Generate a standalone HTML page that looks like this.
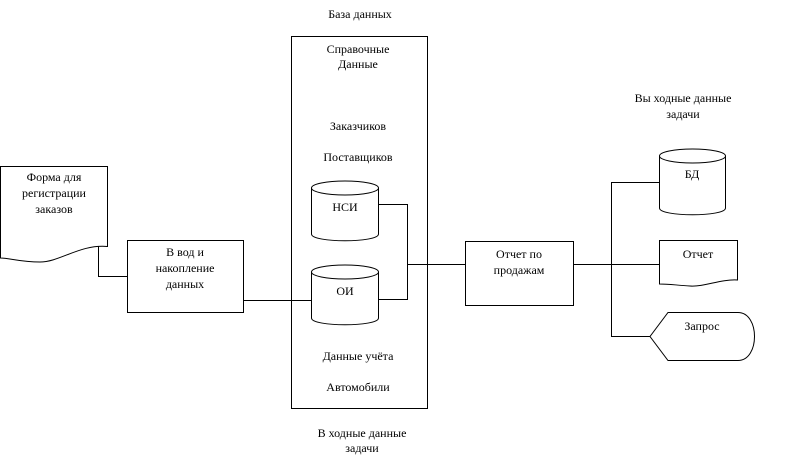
<!DOCTYPE html>
<html><head><meta charset="utf-8"><style>
body{margin:0;background:#fff}
svg text{font-family:"Liberation Serif","Noto Serif CJK SC",serif;font-size:12px;fill:#000}
</style></head><body>
<svg width="792" height="469" viewBox="0 0 792 469" xmlns="http://www.w3.org/2000/svg">
<g fill="none" stroke="#000" stroke-width="1">
<path d="M0.5 166.5H107.5V246.5C80 244 60 262 40 262C20 262 10 258 0.5 258Z" fill="#fff"/>
<rect x="127.5" y="240.5" width="116" height="72"/>
<path d="M98.5 246V276.5H127"/>
<rect x="291.5" y="36.5" width="136" height="372"/>
<path d="M311.5 188V234C311.5 243 378.5 243 378.5 234V188"/>
<ellipse cx="345" cy="188" rx="33.5" ry="7"/>
<path d="M311.5 272V318C311.5 327 378.5 327 378.5 318V272"/>
<ellipse cx="345" cy="272" rx="33.5" ry="7"/>
<path d="M243 300.5H311"/>
<path d="M378.5 204.5H407.5V299.5H378.5"/>
<path d="M407.5 264.5H465"/>
<rect x="465.5" y="241.5" width="108" height="64"/>
<path d="M573.5 264.5H659"/>
<path d="M659 182.5H611.5V336.5H650"/>
<path d="M659.5 156V208C659.5 217 725.5 217 725.5 208V156"/>
<ellipse cx="692.5" cy="156" rx="33" ry="7"/>
<path d="M659.5 240.5H737.5V280C720 279 705 287 690 286C675 285 668 284 659.5 284Z" fill="#fff"/>
<path d="M668 312.5H738C760 312.5 760 360.5 738 360.5H668L650 336.5Z"/>
</g>
<text x="54" y="181" text-anchor="middle">Форма для</text>
<text x="54" y="197" text-anchor="middle">регистрации</text>
<text x="54" y="213" text-anchor="middle">заказов</text>
<text x="185" y="256" text-anchor="middle">В вод и</text>
<text x="185" y="272" text-anchor="middle">накопление</text>
<text x="185" y="288" text-anchor="middle">данных</text>
<text x="360" y="18" text-anchor="middle">База данных</text>
<text x="358" y="53" text-anchor="middle">Справочные</text>
<text x="358" y="68" text-anchor="middle">Данные</text>
<text x="358" y="130" text-anchor="middle">Заказчиков</text>
<text x="358" y="161" text-anchor="middle">Поставщиков</text>
<text x="345" y="211" text-anchor="middle">НСИ</text>
<text x="345" y="295" text-anchor="middle">ОИ</text>
<text x="358" y="360" text-anchor="middle">Данные учёта</text>
<text x="358" y="391" text-anchor="middle">Автомобили</text>
<text x="362" y="437" text-anchor="middle">В ходные данные</text>
<text x="362" y="452" text-anchor="middle">задачи</text>
<text x="519" y="258" text-anchor="middle">Отчет по</text>
<text x="519" y="274" text-anchor="middle">продажам</text>
<text x="683" y="102" text-anchor="middle">Вы ходные данные</text>
<text x="683" y="118" text-anchor="middle">задачи</text>
<text x="692" y="178" text-anchor="middle">БД</text>
<text x="698" y="258" text-anchor="middle">Отчет</text>
<text x="702" y="330" text-anchor="middle">Запрос</text>
</svg>
</body></html>
